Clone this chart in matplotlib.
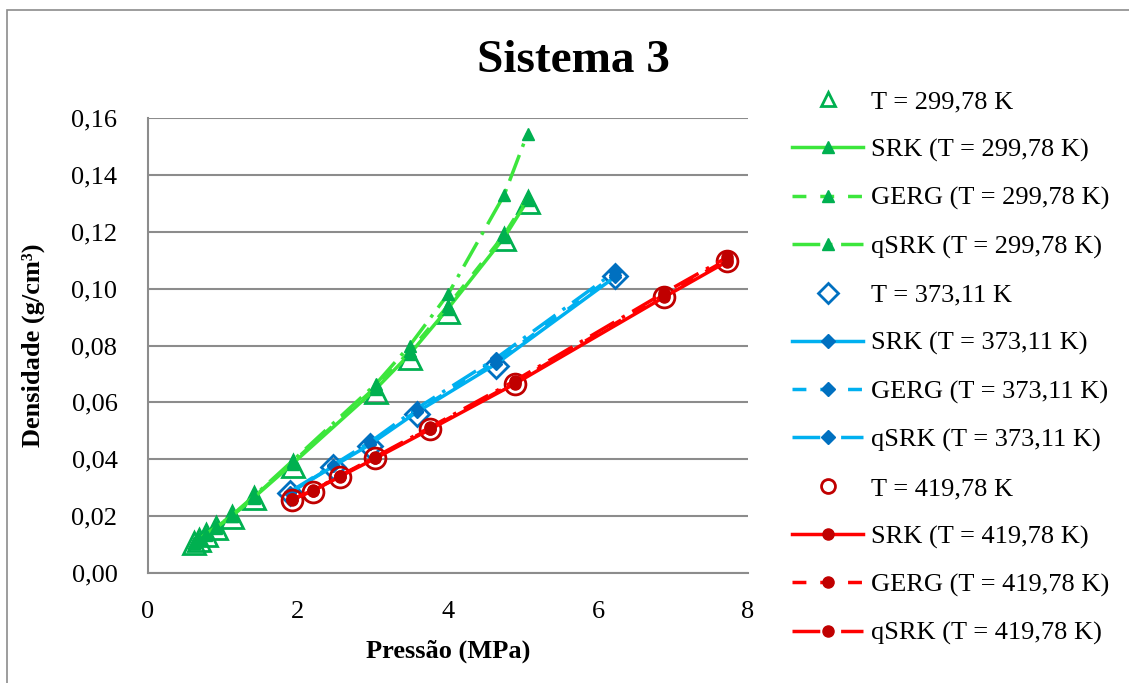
import matplotlib
matplotlib.use("Agg")
import matplotlib.pyplot as plt
from matplotlib.patches import Rectangle
from matplotlib.ticker import FuncFormatter, MultipleLocator

plt.rcParams['font.family'] = ['Liberation Serif', 'DejaVu Serif']

# T = 299,78 K
p1 = [0.61, 0.68, 0.77, 0.91, 1.12, 1.41, 1.93, 3.04, 3.49, 4.00, 4.75, 5.06]
exp1 = [0.0105, 0.0117, 0.0134, 0.0158, 0.0198, 0.0262, 0.0378, 0.0637, 0.0757, 0.0918, 0.1175, 0.1305]
srk1 = [0.0106, 0.0118, 0.0135, 0.0160, 0.0200, 0.0265, 0.0385, 0.0648, 0.0770, 0.0930, 0.1180, 0.1310]
gerg1 = [0.0106, 0.0118, 0.0136, 0.0161, 0.0201, 0.0267, 0.0390, 0.0655, 0.0780, 0.0940, 0.1190, 0.1320]
qsrk1 = [0.0107, 0.0119, 0.0137, 0.0162, 0.0203, 0.0270, 0.0395, 0.0665, 0.0800, 0.0980, 0.1330, 0.1545]

# T = 373,11 K
p2 = [1.89, 2.47, 2.96, 3.58, 4.64, 6.22]
exp2 = [0.0280, 0.0372, 0.0447, 0.0560, 0.0728, 0.1045]
srk2 = [0.0282, 0.0375, 0.0452, 0.0565, 0.0735, 0.1040]
gerg2 = [0.0283, 0.0377, 0.0455, 0.0570, 0.0742, 0.1048]
qsrk2 = [0.0285, 0.0380, 0.0460, 0.0578, 0.0755, 0.1058]

# T = 419,78 K
p3 = [1.92, 2.20, 2.56, 3.03, 3.76, 4.89, 6.88, 7.72]
exp3 = [0.0255, 0.0286, 0.0339, 0.0403, 0.0505, 0.0663, 0.0972, 0.1097]
srk3 = [0.0258, 0.0289, 0.0339, 0.0403, 0.0505, 0.0665, 0.0970, 0.1095]
gerg3 = [0.0259, 0.0290, 0.0341, 0.0406, 0.0508, 0.0670, 0.0978, 0.1102]
qsrk3 = [0.0259, 0.0291, 0.0342, 0.0408, 0.0512, 0.0676, 0.0985, 0.1110]

fig = plt.figure(figsize=(11.29, 6.83), dpi=100)
ax = fig.add_axes([148 / 1129, 1 - 573 / 683, 600 / 1129, 455 / 683])

# outer chart border
fig.patches.append(Rectangle((7 / 1129, -0.1), 1.2, 1.1 - 10 / 683, transform=fig.transFigure,
                             fill=False, edgecolor='#8c8c8c', linewidth=1.2))

groups = [
    ('299,78', p1, exp1, srk1, gerg1, qsrk1, '^', '#00B050', '#3CE63C', '#00B050'),
    ('373,11', p2, exp2, srk2, gerg2, qsrk2, 'D', '#0070C0', '#00B0F0', '#0070C0'),
    ('419,78', p3, exp3, srk3, gerg3, qsrk3, 'o', '#C00000', '#FF0000', '#C00000'),
]

handles = []
for T, p, ex, srk, gerg, qsrk, mk, ecol, lcol, fcol in groups:
    big = 16 if mk == '^' else (12 if mk == 'D' else 15)
    small = 8 if mk != 'D' else 6
    h0, = ax.plot(p, ex, linestyle='none', marker=mk, markersize=big, markerfacecolor='none',
                  markeredgecolor=ecol, markeredgewidth=2, label=f'T = {T} K')
    h1, = ax.plot(p, srk, color=lcol, linewidth=2.5, marker=mk, markersize=small,
                  markerfacecolor=fcol, markeredgecolor=fcol, label=f'SRK (T = {T} K)')
    h2, = ax.plot(p, gerg, color=lcol, linewidth=2.5, linestyle=(0, (4, 4)), marker=mk,
                  markersize=small, markerfacecolor=fcol, markeredgecolor=fcol,
                  label=f'GERG (T = {T} K)')
    h3, = ax.plot(p, qsrk, color=lcol, linewidth=2.5, linestyle=(0, (8, 2.5, 1, 2.5)), marker=mk,
                  markersize=small, markerfacecolor=fcol, markeredgecolor=fcol,
                  label=f'qSRK (T = {T} K)')
    handles += [h0, h1, h2, h3]

ax.set_xlim(0, 8)
ax.set_ylim(0, 0.16)
ax.xaxis.set_major_locator(MultipleLocator(2))
ax.yaxis.set_major_locator(MultipleLocator(0.02))
ax.yaxis.set_major_formatter(FuncFormatter(lambda v, pos: f'{v:.2f}'.replace('.', ',')))
ax.xaxis.set_major_formatter(FuncFormatter(lambda v, pos: f'{v:g}'))
ax.tick_params(length=0, labelsize=19)
ax.tick_params(axis='x', pad=20)
ax.tick_params(axis='y', pad=22)
ax.yaxis.grid(True, color='#8c8c8c', linewidth=1.5)
ax.set_axisbelow(True)
for s in ['top', 'right']:
    ax.spines[s].set_visible(False)
for s in ['left', 'bottom']:
    ax.spines[s].set_color('#8c8c8c')
    ax.spines[s].set_linewidth(1.5)

ax.set_xlabel('Pressão (MPa)', fontsize=19, fontweight='bold', labelpad=12)
ax.set_ylabel('Densidade (g/cm³)', fontsize=19, fontweight='bold', labelpad=19)
fig.text(573 / 1129, 1 - 61 / 683, 'Sistema 3', fontsize=34, fontweight='bold',
         ha='center', va='center')

leg = fig.legend(handles=handles, loc='upper left', bbox_to_anchor=(792 / 1129, 1 - 90 / 683),
                 frameon=False, fontsize=19, handlelength=2.7, labelspacing=0.93,
                 handletextpad=0.3, borderaxespad=0, borderpad=0)
for lh in leg.legend_handles:
    if lh.get_linestyle() == 'None':
        lh.set_markersize(10)
    else:
        lh.set_markersize(8 if lh.get_marker() != 'D' else 7)

fig.savefig('out.png', dpi=100)
